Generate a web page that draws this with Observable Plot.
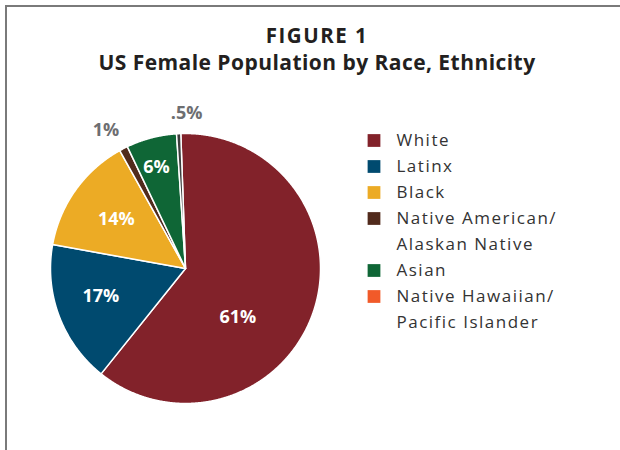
<!DOCTYPE html>
<html><head><meta charset="utf-8">
<script src="https://cdn.jsdelivr.net/npm/d3@7"></script>
<script src="https://cdn.jsdelivr.net/npm/@observablehq/plot@0.6"></script>
<style>
body{margin:0;background:#fff;overflow:hidden;font-family:"Open Sans",sans-serif}
#wrap{position:relative;width:620px;height:450px;overflow:hidden}
#frame{position:absolute;left:5px;top:5px;width:700px;height:600px;border-left:2px solid #7a7a7a;border-top:2px solid #7a7a7a}
#title{position:absolute;left:0;top:22px;width:634px;text-align:center;color:#231f20;font-weight:700}
#t1{font-size:20.5px;line-height:27px;letter-spacing:1.5px}
#t2{font-size:21px;line-height:27px;letter-spacing:0.45px}
#chart{position:absolute;left:0;top:90px}
</style></head><body>
<div id="wrap"><div id="frame"></div>
<div id="title"><div id="t1">FIGURE 1</div><div id="t2">US Female Population by Race, Ethnicity</div></div>
<div id="chart"></div></div>
<script>
const categories = ["White","Latinx","Black","Native American/\nAlaskan Native","Asian","Native Hawaiian/\nPacific Islander"];
const shares = [61,17,14,1,6,0.5];
const valueLabels = ["61%","17%","14%","1%","6%",".5%"];
const legendColors = ["#82222a","#004a6f","#ecab25","#512a1c","#0f6636","#f15a29"];
const sliceColors = ["#82222a","#004a6f","#ecab25","#512a1c","#0f6636","#3d3d3d"];
// layout tweaks for the value labels (radius as a fraction of the pie radius, extra turn in degrees)
const labelRadius = [0.53,0.66,0.63,1.18,0.78,1.15];
const labelTurn = [24.6,2.3,0,-2.6,-1.3,3.3];

const W = 620, H = 360, cx = 185, cy = 178, R = 135;
const deg = Math.PI / 180;
const rows = categories.map((name, i) => ({name, value: shares[i], i}));
const arcs = d3.pie().value(d => d.value).sort(null)
  .startAngle(-2 * deg).endAngle(358 * deg)(rows);

const pts = [];
for (const a of arcs) {
  const color = sliceColors[a.data.i];
  pts.push({name: a.data.name, color, x: cx, y: cy});
  const n = Math.max(2, Math.ceil((a.endAngle - a.startAngle) / (0.25 * deg)));
  for (let k = 0; k <= n; k++) {
    const t = a.startAngle + (a.endAngle - a.startAngle) * k / n;
    pts.push({name: a.data.name, color, x: cx + R * Math.sin(t), y: cy - R * Math.cos(t)});
  }
  pts.push({name: a.data.name, color, x: cx, y: cy});
}

const labels = arcs.map(a => {
  const i = a.data.i;
  const m = (a.startAngle + a.endAngle) / 2 + labelTurn[i] * deg;
  const r = labelRadius[i] * R;
  return {text: valueLabels[i], x: cx + r * Math.sin(m), y: cy - r * Math.cos(m),
          color: labelRadius[i] < 1 ? "#ffffff" : "#6d6e71"};
});

const squares = [], legendLines = [];
let row = 0;
categories.forEach((name, i) => {
  const y0 = 50 + row * 26;
  squares.push({x: 373.5, y: y0, color: legendColors[i]});
  name.split("\n").forEach(line => {
    legendLines.push({x: 396, y: 50 + row * 26, text: line});
    row++;
  });
});

const chart = Plot.plot({
  width: W, height: H, margin: 0,
  style: {fontFamily: "'Open Sans', sans-serif", background: "transparent"},
  x: {type: "linear", domain: [0, W], range: [0, W], axis: null},
  y: {type: "linear", domain: [0, H], range: [0, H], axis: null},
  color: {type: "identity"},
  marks: [
    Plot.line(pts, {x: "x", y: "y", z: "name", fill: "color", stroke: "#ffffff", strokeWidth: 1.5, strokeLinejoin: "round", curve: "linear"}),
    Plot.text(labels, {x: "x", y: "y", text: "text", fill: "color", fontSize: 18, fontWeight: 700}),
    Plot.dot(squares, {x: "x", y: "y", fill: "color", symbol: "square", r: 7.2}),
    Plot.text(legendLines, {x: "x", y: "y", text: "text", textAnchor: "start", fontSize: 17, fill: "#333333"})
  ]
});
const textGroups = chart.querySelectorAll('g[aria-label="text"]');
if (textGroups.length > 1) textGroups[textGroups.length - 1].style.letterSpacing = "1.5px";
document.getElementById("chart").appendChild(chart);
</script>
</body></html>
